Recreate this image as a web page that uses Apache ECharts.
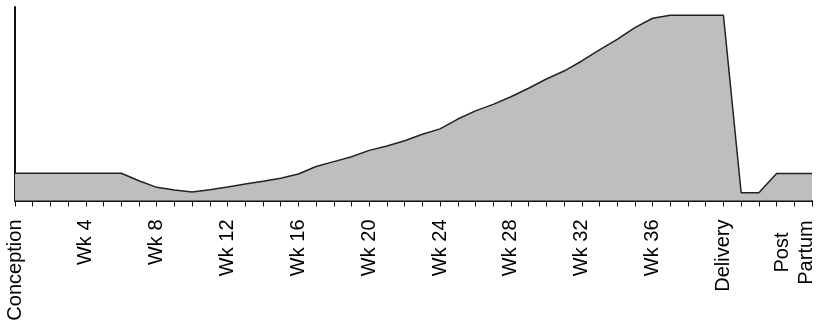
<!DOCTYPE html>
<html>
<head>
<meta charset="utf-8">
<script src="https://cdn.jsdelivr.net/npm/echarts@6/dist/echarts.min.js"></script>
<style>
html,body{margin:0;padding:0;background:#fff;}
#chart{width:817px;height:325px;}
</style>
</head>
<body>
<div id="chart"></div>
<script>
// Week-by-week categories (0 = conception, 40 = delivery, 41-45 post partum)
const categories = [
  'Conception','','','','Wk 4','','','','Wk 8','','','','Wk 12','','','',
  'Wk 16','','','','Wk 20','','','','Wk 24','','','','Wk 28','','','',
  'Wk 32','','','','Wk 36','','','','Delivery','','','','Post\nPartum',''
];
// Relative level (0-100 scale)
const values = [
  14.1,14.1,14.1,14.1,14.1,14.1,14.1,10.2,6.8,5.4,4.4,5.6,7.0,8.5,9.9,11.5,
  13.7,17.6,20.1,22.6,25.9,28.2,30.9,34.2,37.0,42.1,46.3,49.7,53.6,58.0,62.8,66.9,
  72.1,77.8,83.3,89.3,94.2,95.7,95.7,95.7,95.7,4.0,4.0,13.9,13.9,13.9
];

const chart = echarts.init(document.getElementById('chart'), null, {renderer:'canvas'});
chart.setOption({
  animation: false,
  grid: {left: 15, right: 5, top: 7, bottom: 124.5, containLabel: false},
  xAxis: {
    type: 'category',
    boundaryGap: false,
    data: categories,
    axisLine: {show: true, lineStyle: {color: '#111', width: 2}},
    axisTick: {show: true, interval: 0, length: 6, lineStyle: {color: '#111', width: 1}},
    axisLabel: {
      interval: 0,
      rotate: 90,
      margin: 19,
      color: '#000',
      fontFamily: 'Liberation Sans, Arial, sans-serif',
      fontSize: 20,
      formatter: function (v) {
        if (v.indexOf('\n') >= 0) {
          return v.split('\n').map(function (s) { return '{c|' + s + '}'; }).join('\n');
        }
        return v;
      },
      rich: {
        c: {align: 'center', width: 66, lineHeight: 24, fontSize: 20,
            fontFamily: 'Liberation Sans, Arial, sans-serif', color: '#000'}
      }
    },
    splitLine: {show: false}
  },
  yAxis: {
    type: 'value',
    min: 0,
    max: 100,
    axisLine: {show: true, lineStyle: {color: '#111', width: 2}},
    axisTick: {show: false},
    axisLabel: {show: false},
    splitLine: {show: false}
  },
  series: [{
    type: 'line',
    data: values,
    showSymbol: false,
    symbol: 'none',
    lineStyle: {color: '#222', width: 1.5},
    areaStyle: {color: '#bdbec0', opacity: 1},
    z: 1
  }]
});
</script>
</body>
</html>
